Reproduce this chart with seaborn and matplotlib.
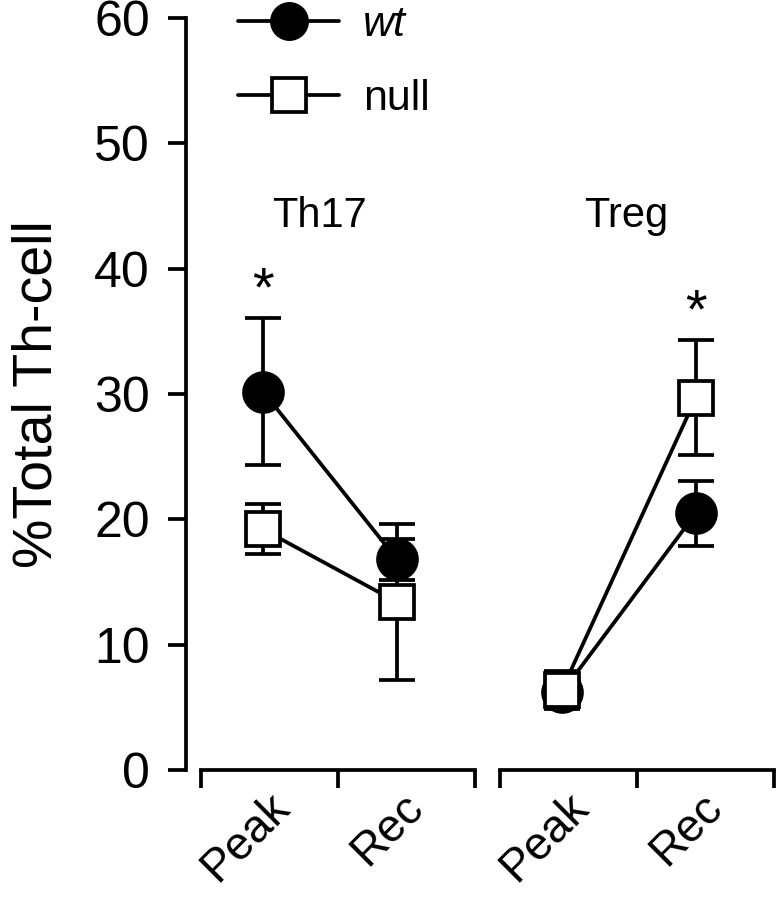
import numpy as np
import pandas as pd
import matplotlib
matplotlib.use("Agg")
import matplotlib.pyplot as plt
import seaborn as sns
from matplotlib.lines import Line2D

### data (mean and error bar half-length)
panels = ["Th17", "Treg"]
timepoints = ["Peak", "Rec"]
wt_mean = [30.2, 16.8, 6.2, 20.5]
wt_err = [5.9, 1.6, 0.4, 2.6]
null_mean = [19.2, 13.4, 6.4, 29.7]
null_err = [2.0, 6.2, 1.5, 4.6]
yticks = [0, 10, 20, 30, 40, 50, 60]
# (panel, timepoint, genotype whose bar gets the star)
signif = [("Th17", "Peak", "wt"), ("Treg", "Rec", "null")]

rows = []
for i, p in enumerate(panels):
    for j, t in enumerate(timepoints):
        k = i * 2 + j
        rows.append(dict(panel=p, time=t, pos=j, genotype="wt", value=wt_mean[k], err=wt_err[k]))
        rows.append(dict(panel=p, time=t, pos=j, genotype="null", value=null_mean[k], err=null_err[k]))
df = pd.DataFrame(rows)

sns.set_style("ticks")
plt.rcParams["font.family"] = ["Liberation Sans", "DejaVu Sans"]
plt.rcParams.update({"text.color": "black", "axes.labelcolor": "black",
                     "xtick.color": "black", "ytick.color": "black",
                     "axes.edgecolor": "black"})

LW = 2.7
fig = plt.figure(figsize=(7.77, 9.0), dpi=100)
ax1 = fig.add_axes([0.2394, 0.1444, 0.381, 0.8356])
ax2 = fig.add_axes([0.6306, 0.1444, 0.3668, 0.8356])

styles = {"wt": dict(marker="o", markersize=28, markerfacecolor="black"),
          "null": dict(marker="s", markersize=24, markerfacecolor="white")}

for ax, p, xlim in zip([ax1, ax2], panels, [(-0.575, 1.634), (-0.537, 1.59)]):
    sub = df[df.panel == p]
    for g in ["wt", "null"]:
        d = sub[sub.genotype == g]
        ax.errorbar(d.pos, d.value, yerr=d.err, fmt="none", ecolor="black",
                    elinewidth=LW, capsize=13, capthick=LW, zorder=2, clip_on=False)
        sns.lineplot(data=d, x="pos", y="value", color="black", lw=LW,
                     markeredgecolor="black", markeredgewidth=LW,
                     ax=ax, zorder=3, clip_on=False, **styles[g])
    for (sp, st, sg) in signif:
        if sp == p:
            r = sub[(sub.time == st) & (sub.genotype == sg)].iloc[0]
            ax.text(r.pos, r.value + r.err + 1.0, "*", ha="center", va="baseline", fontsize=40)
    ax.set_ylim(0, 60)
    ax.set_xlim(*xlim)
    ax.set_xlabel("")
    ax.set_ylabel("")
    ax.set_xticks([-0.46, 0.56, 1.58])
    ax.set_xticklabels([])
    ax.set_xticks([0.03, 1.03], minor=True)
    ax.set_xticklabels(timepoints, minor=True, rotation=45, ha="right", va="top",
                       rotation_mode="anchor", fontsize=33)
    ax.tick_params(axis="x", which="major", direction="out", length=13, width=LW)
    ax.tick_params(axis="x", which="minor", length=0, pad=11)
    ax.spines["bottom"].set_bounds(-0.46, 1.58)
    ax.spines["bottom"].set_linewidth(LW)

ax1.text(0.42, 43.3, "Th17", ha="center", va="baseline", fontsize=30)
ax2.text(0.48, 43.3, "Treg", ha="center", va="baseline", fontsize=30)

sns.despine(ax=ax1)
sns.despine(ax=ax2, left=True)
ax1.spines["left"].set_linewidth(LW)
ax1.spines["left"].set_bounds(0, 60)
ax1.set_yticks(yticks)
ax1.set_yticklabels([str(v) for v in yticks], fontsize=36)
ax1.tick_params(axis="y", direction="out", length=13, width=LW, pad=13)
ax1.set_ylabel("%Total Th-cell", fontsize=40, labelpad=22)
ax2.set_yticks([])

handles = [Line2D([], [], color="black", lw=LW, marker="o", markersize=27,
                  markerfacecolor="black", markeredgecolor="black"),
           Line2D([], [], color="black", lw=LW, marker="s", markersize=25,
                  markerfacecolor="white", markeredgecolor="black", markeredgewidth=LW)]
leg = fig.legend(handles, ["wt", "null"], loc="upper left", bbox_to_anchor=(238 / 777, 0.994),
                 frameon=False, fontsize=31, handlelength=2.35, handletextpad=0.55,
                 labelspacing=0.78, borderpad=0, borderaxespad=0)
leg.get_texts()[0].set_style("italic")

fig.savefig("out.png", dpi=100)
